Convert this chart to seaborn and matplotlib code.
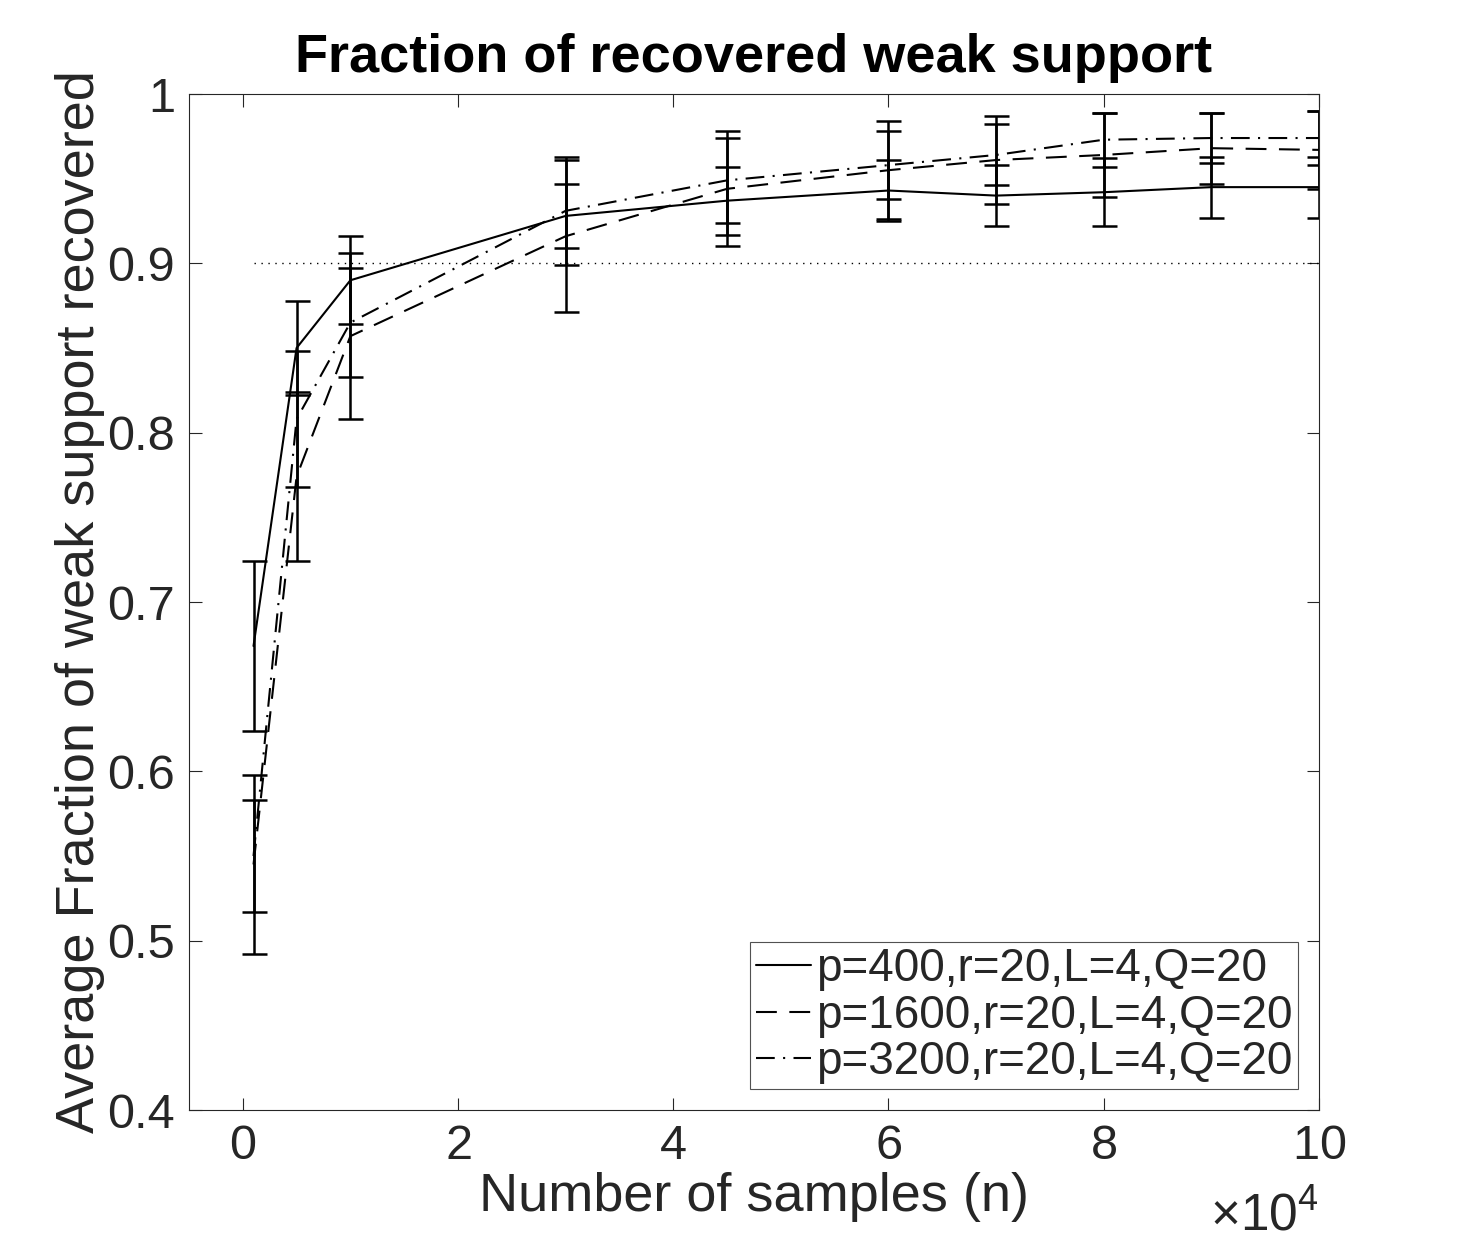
import seaborn as sns
import matplotlib.pyplot as plt
import pandas as pd
from matplotlib.ticker import ScalarFormatter, FixedLocator, FuncFormatter

# values
n_samples = [1000, 5000, 10000, 30000, 45000, 60000, 70000, 80000, 90000, 100000]
mean_p400 = [0.674, 0.850, 0.890, 0.928, 0.937, 0.943, 0.940, 0.942, 0.945, 0.945]
err_p400 = [0.050, 0.028, 0.026, 0.019, 0.020, 0.018, 0.018, 0.020, 0.018, 0.018]
mean_p1600 = [0.545, 0.774, 0.857, 0.916, 0.944, 0.955, 0.961, 0.964, 0.968, 0.967]
err_p1600 = [0.053, 0.050, 0.049, 0.045, 0.034, 0.029, 0.026, 0.025, 0.021, 0.023]
mean_p3200 = [0.550, 0.808, 0.865, 0.931, 0.949, 0.958, 0.964, 0.973, 0.974, 0.974]
err_p3200 = [0.033, 0.040, 0.032, 0.032, 0.025, 0.020, 0.018, 0.016, 0.015, 0.016]
labels = ["p=400,r=20,L=4,Q=20", "p=1600,r=20,L=4,Q=20", "p=3200,r=20,L=4,Q=20"]
threshold = 0.9
yticks = [0.4, 0.5, 0.6, 0.7, 0.8, 0.9, 1.0]
xticks = [0, 20000, 40000, 60000, 80000, 100000]

sns.set_theme(style="white")
plt.rcParams["font.family"] = ["Liberation Sans", "DejaVu Sans"]
plt.rcParams["mathtext.fontset"] = "custom"
plt.rcParams["mathtext.rm"] = "Liberation Sans"

fig = plt.figure(figsize=(14.59, 12.5), dpi=100)
ax = fig.add_axes([0.1295, 0.112, 0.7745, 0.8128])

styles = ["-", (0, (10, 6)), (0, (9, 4, 1, 4))]
means = [mean_p400, mean_p1600, mean_p3200]
errs = [err_p400, err_p1600, err_p3200]

for m, e, lab, ls in zip(means, errs, labels, styles):
    df = pd.DataFrame({"n": n_samples, "frac": m})
    sns.lineplot(data=df, x="n", y="frac", color="black", linewidth=1.5,
                 linestyle=ls, label=lab, ax=ax)
    ax.errorbar(n_samples, m, yerr=e, fmt="none", ecolor="black",
                elinewidth=1.8, capsize=9, capthick=1.8, clip_on=True)

# 0.9 reference line
sns.lineplot(x=[n_samples[0], n_samples[-1]], y=[threshold, threshold],
             color="black", linewidth=1.0, linestyle=(0, (1, 4)), ax=ax)

ax.set_xlim(-5000, 100000)
ax.set_ylim(0.4, 1.0)
ax.xaxis.set_major_locator(FixedLocator(xticks))
fmt = ScalarFormatter(useMathText=True)
fmt.set_powerlimits((4, 4))
ax.xaxis.set_major_formatter(fmt)
ax.yaxis.set_major_locator(FixedLocator(yticks))
ax.yaxis.set_major_formatter(FuncFormatter(lambda v, p: "1" if abs(v - 1) < 1e-9 else f"{v:.1f}"))

for s in ax.spines.values():
    s.set_visible(True)
    s.set_color("#262626")
    s.set_linewidth(0.8)
ax.tick_params(direction="in", length=9, width=0.8, colors="#262626",
               labelsize=35, top=True, right=True, bottom=True, left=True, pad=10)
# push the x10^4 a bit lower, like the reference
ax.xaxis.OFFSETTEXTPAD = 16
ax.xaxis.get_offset_text().set_fontsize(37)
ax.xaxis.get_offset_text().set_color("#262626")

ax.set_xlabel("Number of samples (n)", fontsize=39, color="#262626", labelpad=2)
ax.set_ylabel("Average Fraction of weak support recovered", fontsize=39,
              color="#262626", labelpad=2)
ax.set_title("Fraction of recovered weak support", fontsize=39,
             fontweight="bold", color="black", pad=16)

leg = ax.legend(loc="lower right", fontsize=33, handlelength=1.2,
                handletextpad=0.12, labelspacing=0.05, borderpad=0.12,
                borderaxespad=0.45, fancybox=False, frameon=True)
leg.get_frame().set_edgecolor("#262626")
leg.get_frame().set_linewidth(0.8)

plt.savefig("out.png", dpi=100)
